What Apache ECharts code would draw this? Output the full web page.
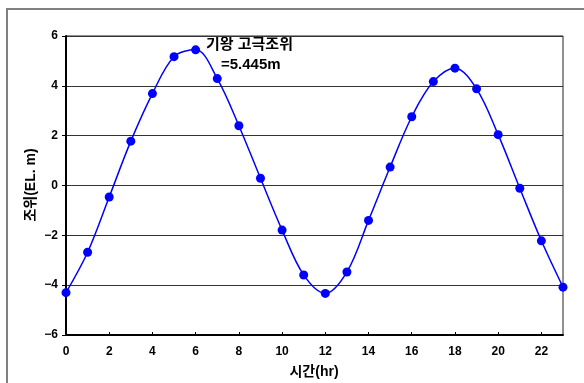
<!DOCTYPE html>
<html><head><meta charset="utf-8">
<script src="https://cdn.jsdelivr.net/npm/echarts@6/dist/echarts.min.js"></script>
<style>html,body{margin:0;padding:0;background:#fff}#c{width:584px;height:383px}</style>
</head><body><div id="c"></div>
<script>
const hours = [0,1,2,3,4,5,6,7,8,9,10,11,12,13,14,15,16,17,18,19,20,21,22,23];
const tide = [-4.30,-2.68,-0.46,1.78,3.69,5.17,5.445,4.29,2.40,0.29,-1.79,-3.59,-4.33,-3.47,-1.40,0.74,2.76,4.17,4.71,3.88,2.04,-0.11,-2.22,-4.08];
const xName = '시간(hr)';
const yName = '조위(EL. m)';
const note = ['기왕 고극조위', '=5.445m'];
const FONT = '"Liberation Sans", Arial, "Noto Sans CJK KR", sans-serif';

const chart = echarts.init(document.getElementById('c'));
chart.setOption({
  animation: false,
  grid: {left: 66, top: 36, width: 497, height: 299, show: true, borderColor: '#222', borderWidth: 1, backgroundColor: 'transparent'},
  graphic: [
    {type: 'rect', shape: {x: 7, y: 9, width: 700, height: 500}, style: {fill: 'none', stroke: '#808080', lineWidth: 2}, z: -10},
    {type: 'text', left: 206, top: 37, style: {text: note[0], font: 'bold 15px ' + FONT, fill: '#000'}},
    {type: 'text', left: 221, top: 57, style: {text: note[1], font: 'bold 15px ' + FONT, fill: '#000'}},
    {type: 'text', x: 31, y: 185, rotation: Math.PI / 2,
      style: {text: yName, font: 'bold 14px ' + FONT, fill: '#000', align: 'center', verticalAlign: 'middle'}},
    {type: 'text', x: 314, y: 372,
      style: {text: xName, font: 'bold 14px ' + FONT, fill: '#000', align: 'center', verticalAlign: 'middle'}}
  ],
  xAxis: {
    type: 'value', min: 0, max: 23, interval: 2,
    axisLine: {onZero: false, lineStyle: {color: '#000', width: 2}},
    axisTick: {inside: true, length: 3, lineStyle: {color: '#000'}},
    axisLabel: {fontFamily: FONT, fontWeight: 'bold', fontSize: 12, color: '#000', margin: 11, showMaxLabel: false},
    splitLine: {show: false}
  },
  yAxis: {
    type: 'value', min: -6, max: 6, interval: 2,
    axisLine: {onZero: false, lineStyle: {color: '#000', width: 2}},
    axisTick: {show: true, length: 4, lineStyle: {color: '#000'}},
    axisLabel: {fontFamily: FONT, fontWeight: 'bold', fontSize: 12, color: '#000', margin: 8,
      formatter: v => v < 0 ? '\u2212' + Math.abs(v) : String(v)},
    splitLine: {show: true, lineStyle: {color: '#333', width: 1}}
  },
  series: [{
    type: 'line', smooth: 0.35,
    data: hours.map((h, i) => [h, tide[i]]),
    symbol: 'circle', symbolSize: 9,
    lineStyle: {color: '#0000ff', width: 1.5},
    itemStyle: {color: '#0000ff'}
  }]
});
</script></body></html>
